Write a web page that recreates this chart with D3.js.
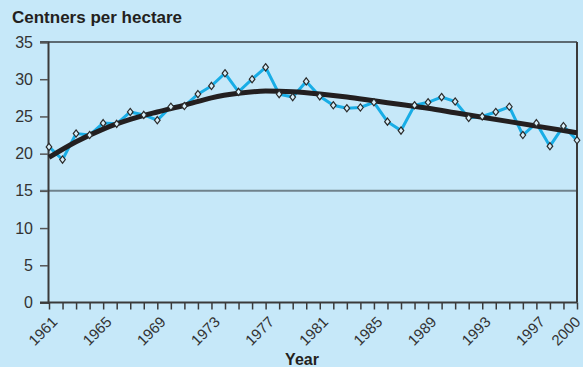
<!DOCTYPE html>
<html>
<head>
<meta charset="utf-8">
<script src="https://cdn.jsdelivr.net/npm/d3@7"></script>
<style>
  html, body { margin: 0; padding: 0; background: #c6e8f9; }
  svg { display: block; font-family: "Liberation Sans", Arial, sans-serif; }
</style>
</head>
<body>
<svg id="chart" width="583" height="367"></svg>
<script>
// Annual yields, 1961-2000
const years = d3.range(1961, 2001);
const yieldValues = [
  20.9, 19.2, 22.7, 22.5, 24.1, 24.0, 25.6, 25.2, 24.5, 26.3,
  26.4, 28.0, 29.1, 30.8, 28.3, 30.0, 31.6, 28.0, 27.6, 29.7,
  27.7, 26.5, 26.1, 26.2, 26.9, 24.3, 23.1, 26.5, 26.9, 27.6,
  27.0, 24.8, 25.0, 25.6, 26.3, 22.5, 24.1, 21.0, 23.7, 21.8
];
// Smoothed trend, sampled every other year
const trendYears = [1961, 1963, 1965, 1967, 1969, 1971, 1973, 1975, 1977, 1979, 1981, 1983, 1985, 1987, 1989, 1991, 1993, 1995, 1997, 1999, 2000];
const trendValues = [19.5, 21.6, 23.3, 24.6, 25.6, 26.5, 27.5, 28.1, 28.4, 28.3, 28.0, 27.6, 27.1, 26.6, 26.1, 25.5, 24.9, 24.3, 23.7, 23.1, 22.8];
const yTicks = [0, 5, 10, 15, 20, 25, 30, 35];
const gridValues = [15, 35];
const labelledYears = [1961, 1965, 1969, 1973, 1977, 1981, 1985, 1989, 1993, 1997, 2000];

const svg = d3.select("#chart");
const plot = { left: 48, right: 577, top: 42, bottom: 302.5 };

const x = d3.scaleLinear().domain([1961, 2000]).range([plot.left + 1, plot.right]);
const y = d3.scaleLinear().domain([0, 35]).range([plot.bottom, plot.top]);

// Title
svg.append("text")
  .attr("x", 12).attr("y", 23)
  .attr("font-size", 17).attr("font-weight", "bold").attr("fill", "#231f20")
  .text("Centners per hectare");

// Horizontal reference lines
svg.selectAll("line.grid").data(gridValues).enter().append("line")
  .attr("class", "grid")
  .attr("x1", plot.left - 8).attr("x2", plot.right)
  .attr("y1", d => y(d)).attr("y2", d => y(d))
  .attr("stroke", d => d === 35 ? "#5d6a72" : "#70828c")
  .attr("stroke-width", 2);

// Y axis
const yAxis = svg.append("g").attr("transform", `translate(${plot.left},0)`)
  .call(d3.axisLeft(y).tickValues(yTicks).tickSize(8).tickPadding(6).tickFormat(d3.format("d")));
yAxis.select(".domain").attr("stroke", "#3a3a3a").attr("stroke-width", 2);
yAxis.selectAll(".tick line").attr("stroke", "#555").attr("stroke-width", 1.5);
yAxis.selectAll(".tick text").attr("font-size", 16).attr("fill", "#333")
  .attr("font-family", "Liberation Sans, Arial, sans-serif")
  .attr("x", -15).attr("text-anchor", "end");

// Right frame line
svg.append("line")
  .attr("x1", plot.right).attr("x2", plot.right).attr("y1", plot.top).attr("y2", plot.bottom)
  .attr("stroke", "#3a3a3a").attr("stroke-width", 2);

// X axis
const xAxis = svg.append("g").attr("transform", `translate(0,${plot.bottom})`)
  .call(d3.axisBottom(x).tickValues(years).tickSize(7).tickFormat(""));
xAxis.select(".domain").remove();
svg.append("line")
  .attr("x1", plot.left - 8).attr("x2", plot.right).attr("y1", plot.bottom).attr("y2", plot.bottom)
  .attr("stroke", "#3a3a3a").attr("stroke-width", 2);
xAxis.selectAll(".tick line").attr("stroke", "#3a3a3a").attr("stroke-width", 1.5);

// Rotated year labels; the last one is kept inside the canvas edge
svg.append("g").selectAll("text").data(labelledYears).enter().append("text")
  .attr("transform", d => `translate(${Math.min(x(d) + 2, 574)},${plot.bottom + 13}) rotate(-45)`)
  .attr("text-anchor", "end")
  .attr("dy", "0.7em")
  .attr("font-size", 15).attr("fill", "#333")
  .text(d => d);

svg.append("text")
  .attr("x", 302).attr("y", 365)
  .attr("text-anchor", "middle")
  .attr("font-size", 16).attr("font-weight", "bold").attr("fill", "#231f20")
  .text("Year");

// Yield series
const line = d3.line().x((d, i) => x(years[i])).y(d => y(d));
svg.append("path").datum(yieldValues)
  .attr("d", line)
  .attr("fill", "none").attr("stroke", "#18ade6").attr("stroke-width", 3)
  .attr("stroke-linejoin", "miter");

// Trend curve
const trendLine = d3.line().x((d, i) => x(trendYears[i])).y(d => y(d)).curve(d3.curveMonotoneX);
svg.append("path").datum(trendValues)
  .attr("d", trendLine)
  .attr("fill", "none").attr("stroke", "#231f20").attr("stroke-width", 5)
  .attr("stroke-linecap", "butt");

// Diamond markers
svg.append("g").selectAll("path").data(yieldValues).enter().append("path")
  .attr("transform", (d, i) => `translate(${x(years[i])},${y(d)})`)
  .attr("d", "M0,-3.6L2.8,0L0,3.6L-2.8,0Z")
  .attr("fill", "#d8eef8").attr("stroke", "#2a2a2a").attr("stroke-width", 1.2);
</script>
</body>
</html>
